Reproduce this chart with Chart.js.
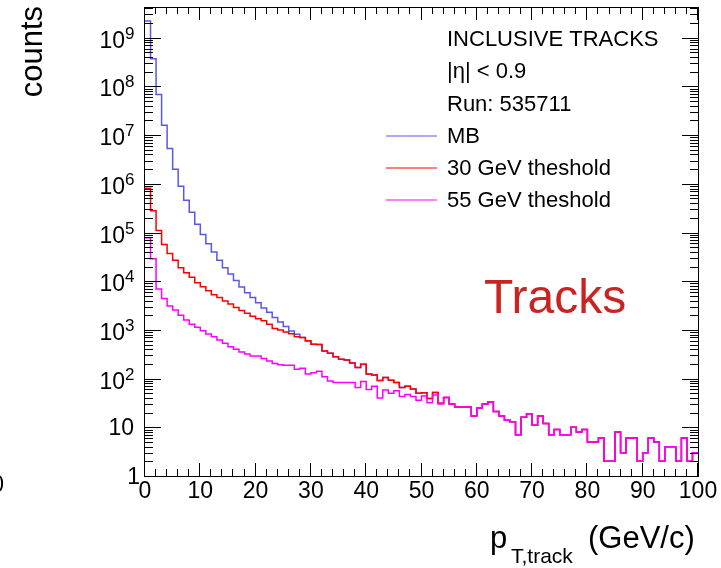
<!DOCTYPE html>
<html>
<head>
<meta charset="utf-8">
<title>Inclusive tracks</title>
<script src="https://cdn.jsdelivr.net/npm/chart.js@4/dist/chart.umd.min.js"></script>
<style>
  html, body { margin: 0; padding: 0; background: #fff; }
  canvas { display: block; }
</style>
</head>
<body>
<canvas id="chart-tracks" width="721" height="568"></canvas>
<script>
/*
 * Inclusive track pT spectra, |eta| < 0.9, run 535711.
 * One-GeV bins from 0 to 100 GeV/c, drawn as ROOT-style step histograms.
 */

// bin low edges (GeV/c), plus the closing edge
const BIN_EDGES = Array.from({ length: 101 }, (_, i) => i);

// minimum bias
const MB_COUNTS = [
  2.2e9, 3.7e8, 6.8e7, 1.6e7, 5.3e6, 2.0e6, 8.9e5, 4.6e5, 2.6e5, 1.48e5,
  9.1e4, 5.9e4, 4.0e4, 2.7e4, 1.9e4, 1.4e4, 1.03e4, 7600, 5800, 4600,
  3600, 2800, 2300, 1800, 1450, 1180, 950, 810, 700, 590,
  510, 500, 370, 330, 280, 250, 240, 210, 170, 196,
  124, 118, 91, 105, 92, 83, 66, 70, 61, 50,
  51, 39, 52, 31, 41, 30, 26, 26, 26, 17,
  25, 30, 33, 21, 17, 14, 13, 7, 16, 19,
  11, 17, 12, 7, 9, 7, 7, 10, 8, 9,
  5, 5, 6, 2, 2, 8, 3, 6, 6, 2,
  3, 6, 5, 2, 4, 4, 2, 6, 2, 3
];

// 30 GeV trigger threshold
const TRIG30_COUNTS = [
  8.1e5, 2.8e5, 1.1e5, 5.7e4, 3.7e4, 2.7e4, 1.9e4, 1.5e4, 1.2e4, 9300,
  7700, 6400, 5300, 4600, 3900, 3400, 2900, 2500, 2200, 1900,
  1700, 1550, 1300, 1070, 1000, 910, 830, 720, 700, 600,
  510, 500, 370, 330, 280, 250, 240, 210, 170, 196,
  124, 118, 91, 105, 92, 83, 66, 70, 61, 50,
  51, 39, 52, 31, 41, 30, 26, 26, 26, 17,
  25, 30, 33, 21, 17, 14, 13, 7, 16, 19,
  11, 17, 12, 7, 9, 7, 7, 10, 8, 9,
  5, 5, 6, 2, 2, 8, 3, 6, 6, 2,
  3, 6, 5, 2, 4, 4, 2, 6, 2, 3
];

// 55 GeV trigger threshold
const TRIG55_COUNTS = [
  7.8e4, 2.9e4, 6900, 4400, 3100, 2560, 2000, 1600, 1300, 1130,
  960, 820, 720, 620, 530, 450, 400, 350, 320, 290,
  290, 260, 230, 204, 193, 187, 187, 155, 163, 124,
  132, 141, 109, 89, 83, 83, 83, 83, 66, 87,
  60, 70, 40, 58, 50, 56, 43, 47, 43, 36,
  44, 32, 46, 30, 41, 30, 26, 26, 26, 17,
  25, 30, 33, 21, 17, 14, 13, 7, 16, 19,
  11, 17, 12, 7, 9, 7, 7, 10, 8, 9,
  5, 5, 6, 2, 2, 8, 3, 6, 6, 2,
  3, 6, 5, 2, 4, 4, 2, 6, 2, 3
];

const SERIES_NAMES = ['MB', '30 GeV theshold', '55 GeV theshold'];
const SERIES_COLORS = ['rgb(88, 88, 232)', 'rgb(255, 0, 0)', 'rgb(255, 0, 255)'];
const INFO_LINES = ['INCLUSIVE TRACKS', '|\u03b7| < 0.9', 'Run: 535711'];

const X_TICKS = [0, 10, 20, 30, 40, 50, 60, 70, 80, 90, 100];
const Y_TICKS = [1, 10, 1e2, 1e3, 1e4, 1e5, 1e6, 1e7, 1e8, 1e9];
const Y_MAX = 4.27e9;

const FONT = '"Liberation Sans", Arial, Helvetica, sans-serif';

/**
 * Step histogram points: one point per low edge, the last value repeated
 * on the upper edge so the final bin gets its flat top.
 */
function histPoints(counts) {
  const pts = counts.map((v, i) => ({ x: BIN_EDGES[i], y: v }));
  pts.push({ x: BIN_EDGES[counts.length], y: counts[counts.length - 1] });
  return pts;
}

/**
 * ROOT-like frame: ticks on all four sides pointing inwards, log labels
 * with superscripts, axis titles and the text legend.
 */
const rootFrame = {
  id: 'rootFrame',
  afterDraw(chart) {
    const { ctx, chartArea: a, scales } = chart;
    const xs = scales.x, ys = scales.y;
    ctx.save();

    // frame
    ctx.strokeStyle = '#000';
    ctx.lineWidth = 1;
    ctx.strokeRect(Math.round(a.left) - 0.5, Math.round(a.top) + 0.5,
      Math.round(a.right - a.left) + 1, Math.round(a.bottom - a.top));

    ctx.beginPath();
    // x ticks every 2 GeV, long ones every 10
    for (let v = 0; v <= 100; v += 2) {
      const px = Math.round(xs.getPixelForValue(v)) - 0.5;
      const len = v % 10 === 0 ? 13 : 7;
      ctx.moveTo(px, a.bottom); ctx.lineTo(px, a.bottom - len);
      ctx.moveTo(px, a.top); ctx.lineTo(px, a.top + len);
    }
    // y ticks: decades plus 2..9 within each
    Y_TICKS.forEach(d => {
      for (let k = 1; k <= 9; k++) {
        const v = d * k;
        if (v > Y_MAX) break;
        const py = Math.round(ys.getPixelForValue(v)) + 0.5;
        const len = k === 1 ? 16 : 8;
        ctx.moveTo(a.left, py); ctx.lineTo(a.left + len, py);
        ctx.moveTo(a.right, py); ctx.lineTo(a.right - len, py);
      }
    });
    ctx.stroke();

    ctx.fillStyle = '#000';

    // x tick labels
    ctx.font = `23px ${FONT}`;
    ctx.textAlign = 'center';
    ctx.textBaseline = 'alphabetic';
    X_TICKS.forEach(v => {
      ctx.fillText(String(v), xs.getPixelForValue(v), 498);
    });

    // y tick labels, 10^n drawn as base + superscript
    Y_TICKS.forEach(v => {
      const py = ys.getPixelForValue(v);
      const n = Math.round(Math.log10(v));
      ctx.textAlign = 'right';
      ctx.font = `23px ${FONT}`;
      if (n === 0) {
        ctx.fillText('1', 140, py + 8);
      } else if (n === 1) {
        ctx.fillText('10', 134, py + 8);
      } else {
        ctx.fillText('10', 125, py + 10);
        ctx.textAlign = 'left';
        ctx.font = `17px ${FONT}`;
        ctx.fillText(String(n), 125, py + 1);
      }
    });

    // clipped label sticking in from the left edge
    ctx.textAlign = 'right';
    ctx.font = `23px ${FONT}`;
    ctx.fillText('0', 4, 492);

    // x axis title with subscript
    ctx.textAlign = 'left';
    ctx.font = `31px ${FONT}`;
    ctx.fillText('p', 490, 548);
    ctx.font = `21px ${FONT}`;
    ctx.fillText('T,track', 511, 563);
    ctx.font = `31px ${FONT}`;
    ctx.fillText('(GeV/c)', 588, 548);

    // y axis title, reading upwards, flush with the top
    ctx.save();
    ctx.translate(42, 6);
    ctx.rotate(-Math.PI / 2);
    ctx.textAlign = 'right';
    ctx.font = `31px ${FONT}`;
    ctx.fillText('counts', 0, 0);
    ctx.restore();

    // legend block
    ctx.textAlign = 'left';
    ctx.font = `22px ${FONT}`;
    const rowY = [46, 78, 111, 143, 175, 207];
    INFO_LINES.forEach((t, i) => ctx.fillText(t, 447, rowY[i]));
    SERIES_NAMES.forEach((t, i) => {
      const y = rowY[i + 3];
      ctx.fillText(t, 447, y);
      ctx.strokeStyle = SERIES_COLORS[i];
      ctx.lineWidth = 1;
      ctx.beginPath();
      ctx.moveTo(386, y - 7);
      ctx.lineTo(437, y - 7);
      ctx.stroke();
    });

    // big label
    ctx.fillStyle = 'rgb(204, 34, 34)';
    ctx.font = `48px ${FONT}`;
    ctx.fillText('Tracks', 484, 313);

    ctx.restore();
  }
};

const counts = [MB_COUNTS, TRIG30_COUNTS, TRIG55_COUNTS];

new Chart(document.getElementById('chart-tracks'), {
  type: 'line',
  data: {
    datasets: counts.map((c, i) => ({
      label: SERIES_NAMES[i],
      data: histPoints(c),
      borderColor: SERIES_COLORS[i],
      borderWidth: 1.5,
      stepped: 'before',
      pointRadius: 0,
      fill: false,
      order: 3 - i
    }))
  },
  options: {
    responsive: false,
    animation: false,
    devicePixelRatio: 1,
    layout: { padding: { left: 145, top: 7, right: 23, bottom: 92 } },
    plugins: { legend: { display: false }, tooltip: { enabled: false } },
    scales: {
      x: { type: 'linear', min: 0, max: 100, display: false },
      y: { type: 'logarithmic', min: 1, max: Y_MAX, display: false }
    }
  },
  plugins: [rootFrame]
});
</script>
</body>
</html>
